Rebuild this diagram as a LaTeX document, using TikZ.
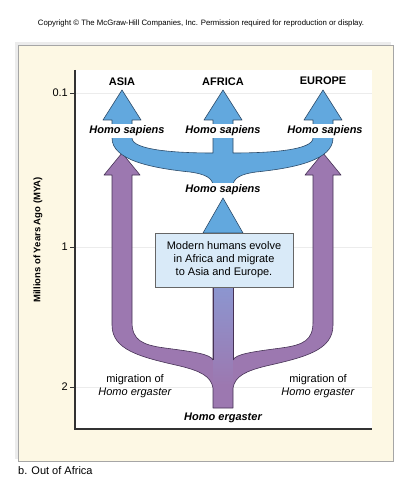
\documentclass[tikz,border=0pt]{standalone}
\usepackage{fontspec}
\setmainfont{Liberation Sans}
\usepackage{tikz}
\usetikzlibrary{calc}
\definecolor{panelcream}{RGB}{253,248,228}
\definecolor{sapblue}{RGB}{98,168,222}
\definecolor{sapedge}{RGB}{45,75,105}
\definecolor{ergpurple}{RGB}{156,120,176}
\definecolor{ergedge}{RGB}{70,50,85}
\definecolor{mixblue}{RGB}{140,150,208}
\definecolor{notefill}{RGB}{217,234,248}
\definecolor{axisgray}{RGB}{50,50,50}

\begin{document}
\begin{tikzpicture}[
    x=1pt, y=-1pt,
    region/.style={font=\fontsize{11}{13}\selectfont\bfseries, inner sep=1pt},
    species/.style={font=\fontsize{11}{13}\selectfont\bfseries\itshape, fill=white, inner sep=1.5pt},
    migr/.style={font=\fontsize{11}{13}\selectfont, align=center, inner sep=1pt},
    note/.style={rectangle, draw=gray!80!black, fill=notefill, minimum width=138pt, minimum height=54pt, align=center, font=\fontsize{11}{13}\selectfont},
    ticklab/.style={font=\fontsize{11}{13}\selectfont, anchor=east, inner sep=1pt},
    grid/.style={gray!15, line width=0.6pt},
    blueflow/.style={fill=sapblue, draw=sapedge, line width=0.6pt, line join=round},
    purpleflow/.style={fill=ergpurple, draw=ergedge, line width=0.6pt, line join=round},
]
    \useasboundingbox (0,0) rectangle (400,497);
    \fill[white] (0,0) rectangle (400,497);

    % Panel
    \fill[gray!15] (15,42) rectangle (391,459);
    \fill[panelcream, draw=gray!70] (18,45) rectangle (393,461);
    \fill[white] (75,70) rectangle (372,429);

    % Header and caption
    \node[font=\fontsize{7.8}{9}\selectfont] (copyright) at (201,23) {Copyright \textcopyright\ The McGraw-Hill Companies, Inc. Permission required for reproduction or display.};
    \node[anchor=west, font=\fontsize{11}{13}\selectfont, inner sep=0pt] (caption) at (18,471) {b. Out of Africa};

    % Grid lines and ticks
    \foreach \yy/\lab in {93/0.1, 247/1, 387/2} {
        \draw[grid] (76,\yy) -- (372,\yy);
        \draw[axisgray, line width=0.6pt] (70,\yy) -- (75,\yy);
        \node[ticklab] at (69,\yy) {\lab};
    }
    \node[rotate=90, font=\fontsize{9.5}{11}\selectfont\bfseries] (ylabel) at (38,240) {Millions of Years Ago (MYA)};

    % Axes
    \draw[axisgray, line width=1.4pt] (75,70) -- (75,429) -- (372,429);

    % Homo ergaster: migration out of Africa
    \path[purpleflow] (112,175) -- (104,175) -- (122,153) -- (140,175) -- (132,175) -- (132,322)
        .. controls (132,340) and (142,345) .. (165,348) .. controls (195,352) and (210,354) .. (213,360)
        -- (213,287) -- (233,287) -- (233,360)
        .. controls (236,354) and (251,352) .. (281,348) .. controls (304,345) and (313,340) .. (313,322)
        -- (313,175) -- (305,175) -- (323,153) -- (341,175) -- (333,175) -- (333,325)
        .. controls (333,350) and (306,357) .. (266,366) .. controls (246,371) and (235,376) .. (233,388)
        -- (233,408) -- (213,408) -- (213,388)
        .. controls (211,376) and (200,371) .. (180,366) .. controls (140,357) and (112,350) .. (112,325) -- cycle;
    \shade[top color=mixblue, bottom color=ergpurple] (213.3,287) rectangle (232.7,385);
    \draw[ergedge, line width=0.6pt] (213,287) -- (213,360) (233,287) -- (233,360);

    % Homo sapiens: spread from Africa
    \path[blueflow] (112,120) -- (103,120) -- (122,90) -- (141,120) -- (132,120) -- (132,138)
        .. controls (132,150) and (175,153) .. (213,153) -- (213,120) -- (204,120) -- (223,90) -- (242,120) -- (233,120)
        -- (233,153) .. controls (271,153) and (313,150) .. (313,138)
        -- (313,120) -- (304,120) -- (323,90) -- (342,120) -- (333,120) -- (333,138)
        .. controls (333,160) and (295,168) .. (256,172) .. controls (241,174) and (233,178) .. (233,186)
        -- (213,186) .. controls (213,178) and (205,174) .. (190,172) .. controls (151,168) and (112,160) .. (112,138) -- cycle;
    \path[blueflow] (203,233) -- (223,198) -- (243,233) -- cycle;

    % Note box
    \node[note] (note) at (224,260) {Modern humans evolve\\in Africa and migrate\\to Asia and Europe.};

    % Regions
    \node[region] (asia) at (122,82) {ASIA};
    \node[region] (africa) at (223,82) {AFRICA};
    \node[region] (europe) at (323,81) {EUROPE};

    % Species labels
    \node[species] (sapL) at (127,131) {Homo sapiens};
    \node[species] (sapC) at (223,131) {Homo sapiens};
    \node[species] (sapR) at (325,131) {Homo sapiens};
    \node[species] (sapM) at (223,190) {Homo sapiens};
    \node[species, fill=none] (erg) at (223,418) {Homo ergaster};

    % Migration labels
    \node[migr] (migL) at (135,386) {migration of\\\textit{Homo ergaster}};
    \node[migr] (migR) at (318,386) {migration of\\\textit{Homo ergaster}};
\end{tikzpicture}
\end{document}
